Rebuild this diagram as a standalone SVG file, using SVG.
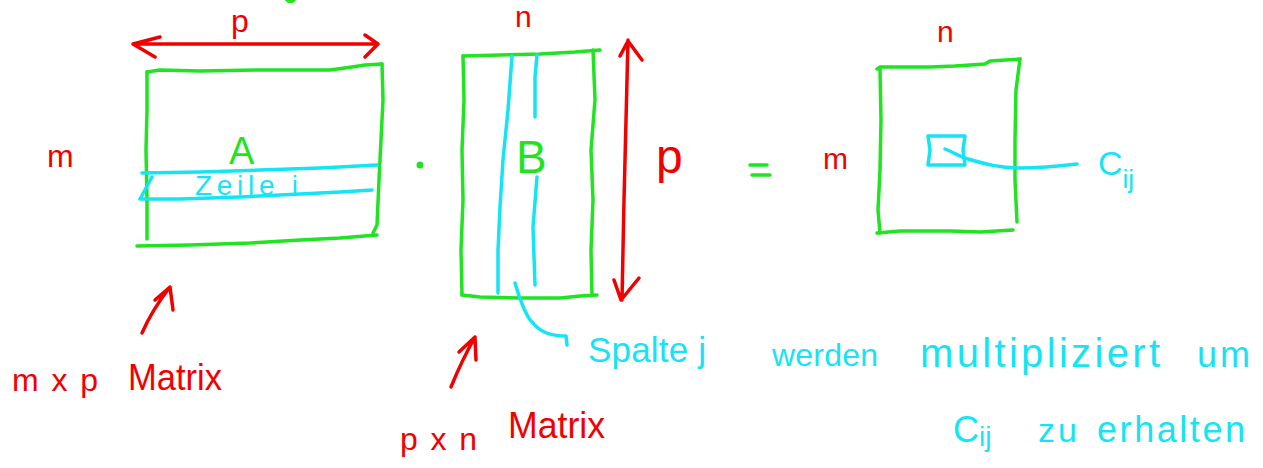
<svg xmlns="http://www.w3.org/2000/svg" width="1263" height="468" viewBox="0 0 1263 468">
  <style>
    .g { fill: none; stroke: #1fe41f; stroke-width: 3.5; stroke-linecap: round; stroke-linejoin: round; }
    .c { fill: none; stroke: #14e4f4; stroke-width: 3.5; stroke-linecap: round; stroke-linejoin: round; }
    .r { fill: none; stroke: #f20000; stroke-width: 3.5; stroke-linecap: round; stroke-linejoin: round; }
    text { font-family: "Liberation Sans", Arial, sans-serif; }
    .tr { fill: #f20000; }
    .tc { fill: #14e4f4; }
    .tg { fill: #1fe41f; }
  </style>
  <rect width="1263" height="468" fill="#ffffff"/>

  <!-- stray green mark at the top edge -->
  <path class="g" d="M287,0 Q290,3 294,0"/>

  <!-- Matrix A -->
  <g id="matrixA">
    <path class="g" d="M147,72 L160,70 L200,71 L260,70 L330,70 L352,67 L365,65 L382,64"/>
    <path class="g" d="M147,72 L147,110 L146,150 L147,200 L147,239"/>
    <path class="g" d="M382,64 L383,100 L381,140 L379,180 L377,225 L373,233"/>
    <path class="g" d="M137,246 L190,245 L250,243 L300,240 L340,238 L377,235"/>
    <path class="c" d="M142,173 L200,172 L260,170 L320,168 L377,165"/>
    <path class="c" d="M152,177 L140,199 L180,199 L240,197 L300,194 L340,192 L372,190"/>
    <text class="tg" x="229" y="164" font-size="38">A</text>
    <text class="tc" x="195" y="195" font-size="28" textLength="103" lengthAdjust="spacing">Zeile i</text>
  </g>

  <!-- Matrix B -->
  <g id="matrixB">
    <path class="g" d="M463,56 L500,55 L540,54 L575,52 L600,50"/>
    <path class="g" d="M463,56 L464,100 L462,150 L463,200 L461,250 L462,295"/>
    <path class="g" d="M593,50 L595,100 L591,150 L593,200 L591,250 L592,295"/>
    <path class="g" d="M462,295 L480,297 L520,298 L560,298 L580,296 L597,295"/>
    <path class="c" d="M512,56 L508,110 L503,160 L500,207 L498,250 L498,293"/>
    <path class="c" d="M537,55 L535,77 L535,117"/>
    <path class="c" d="M537,177 L533,227 L535,285"/>
    <text class="tg" x="516" y="173" font-size="46">B</text>
  </g>

  <!-- Matrix C -->
  <g id="matrixC">
    <path class="g" d="M877,69 L880,67 L930,67 L955,66 L985,64 L990,61 L1020,59"/>
    <path class="g" d="M880,69 L881,120 L880,170 L878,210 L880,233"/>
    <path class="g" d="M1020,59 L1016,90 L1015,140 L1015,180 L1017,222"/>
    <path class="g" d="M877,233 L900,231 L950,231 L980,232 L1013,230"/>
    <path id="cellCij" class="c" d="M928,136 L965,136 L963,150 L965,165 L928,165 L930,150 Z"/>
  </g>

  <!-- operators -->
  <g id="dot">
    <circle cx="420" cy="165" r="3.5" fill="#1fe41f"/>
  </g>
  <g id="equals">
    <path class="g" d="M750,165 L767,165 M752,175 L770,175"/>
  </g>

  <!-- dimension labels -->
  <g id="labels">
    <text class="tr" x="231" y="32" font-size="32">p</text>
    <text class="tr" x="47" y="167" font-size="32">m</text>
    <text class="tr" x="515" y="27" font-size="30">n</text>
    <text class="tr" x="656" y="173" font-size="48">p</text>
    <text class="tr" x="823" y="169" font-size="30">m</text>
    <text class="tr" x="937" y="42" font-size="30">n</text>
    <text class="tc" x="1098" y="175" font-size="34">C<tspan font-size="26" dy="13">ij</tspan></text>
    <text class="tr" x="12" y="391" font-size="32" textLength="86" lengthAdjust="spacing">m x p</text>
    <text class="tr" x="128" y="390" font-size="36" textLength="94" lengthAdjust="spacingAndGlyphs">Matrix</text>
    <text class="tr" x="400" y="450" font-size="32" textLength="77" lengthAdjust="spacing">p x n</text>
    <text class="tr" x="508" y="438" font-size="36" textLength="97" lengthAdjust="spacingAndGlyphs">Matrix</text>
    <text class="tc" x="588" y="362" font-size="35" textLength="118" lengthAdjust="spacing">Spalte j</text>
    <text class="tc" x="772" y="366" font-size="32" textLength="106" lengthAdjust="spacing">werden</text>
    <text class="tc" x="920" y="367" font-size="40" textLength="240" lengthAdjust="spacing">multipliziert</text>
    <text class="tc" x="1197" y="367" font-size="36" textLength="53" lengthAdjust="spacing">um</text>
    <text class="tc" x="953" y="442" font-size="36">C<tspan font-size="28" dy="4">ij</tspan></text>
    <text class="tc" x="1038" y="442" font-size="34" textLength="39" lengthAdjust="spacing">zu</text>
    <text class="tc" x="1097" y="442" font-size="36" textLength="148" lengthAdjust="spacing">erhalten</text>
  </g>

  <!-- connectors -->
  <g id="connectors">
    <!-- p dimension arrow over A -->
    <path class="r" d="M133,44 L378,44 M160,37 L133,44 L155,57 M365,35 L378,44 L365,57"/>
    <!-- p dimension arrow beside B -->
    <path class="r" d="M628,40 L626,120 L624,200 L622,300 M620,56 L628,41 L642,60 M614,280 L621,300 L639,278"/>
    <!-- pointer to A -->
    <path class="r" d="M142,333 Q152,310 170,287 M155,300 L170,287 L173,310"/>
    <!-- pointer to B -->
    <path class="r" d="M451,387 Q462,360 475,337 M459,352 L475,337 L476,360"/>
    <!-- column j leader -->
    <path class="c" d="M515,283 C520,300 525,315 532,322 C540,332 550,336 566,336 L567,345"/>
    <!-- Cij leader -->
    <path class="c" d="M945,149 C955,153 960,157 968,159 C985,164 1000,168 1020,168 C1040,168 1060,166 1077,164"/>
  </g>
</svg>
